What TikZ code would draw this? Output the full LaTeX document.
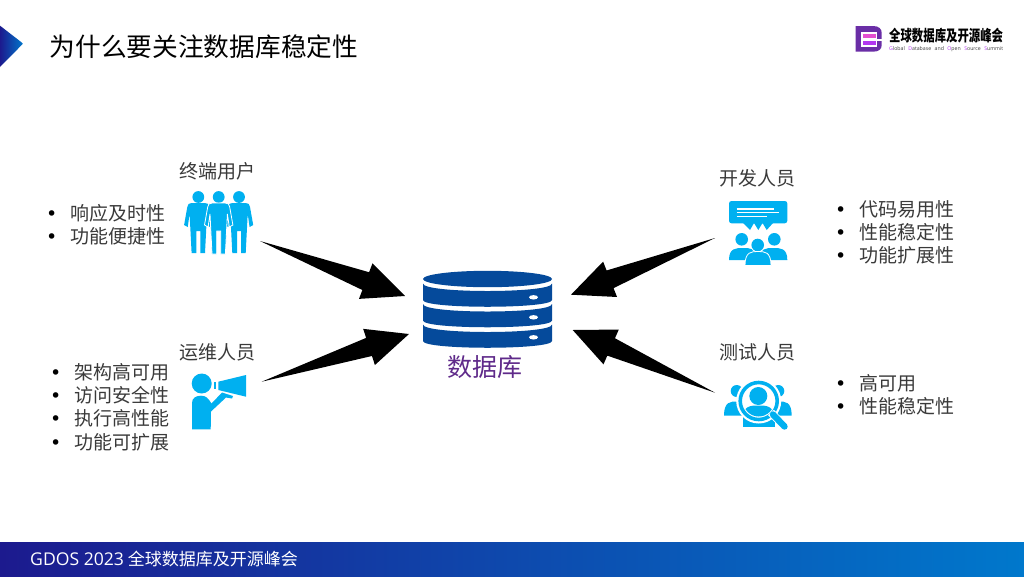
\documentclass[tikz,border=0pt]{standalone}
\usepackage{fontspec}
\setmainfont{Noto Sans CJK SC}
\newfontfamily\logolatin{Open Sans}
\newfontfamily\bulfont{DejaVu Sans}
\usetikzlibrary{calc}
\definecolor{iconblue}{HTML}{00B0F0}
\definecolor{dbblue}{HTML}{054A9B}
\definecolor{dbtext}{HTML}{5F2A8A}
\definecolor{navy}{HTML}{1C1A8E}
\definecolor{barblue}{HTML}{0078CC}
\definecolor{logopurple}{HTML}{6A2EA6}
\definecolor{logopink}{HTML}{E44FD0}
\definecolor{logoviolet}{HTML}{B236F0}
\definecolor{bodytext}{HTML}{3A3A3A}
\tikzset{
  x=1pt,y=-1pt,
  icon/.style={fill=iconblue},
  halo/.style={fill=iconblue,draw=white,line width=.8pt},
  band/.style={fill=dbblue},
  dbdot/.style={fill=white},
  label/.style={font=\fontsize{19}{22}\selectfont,text=bodytext,inner sep=0pt},
  bullets/.style={font=\fontsize{19}{23.3}\selectfont,text=bodytext,inner sep=0pt,anchor=west,align=left},
  taper/.style={fill=black},
}
\newcommand{\bul}{\makebox[24.5pt][l]{\textcolor{black}{\bulfont •}}}
% filled tapered arrow from a point tail to a tip
\newcommand{\taperarrow}[2]{%
  \coordinate (hb) at ($(#2)!42pt!(#1)$);
  \fill[taper] (#1) -- ($(hb)!9.5pt!90:(#2)$) -- ($(hb)!19pt!90:(#2)$) -- (#2)
     -- ($(hb)!19pt!-90:(#2)$) -- ($(hb)!9.5pt!-90:(#2)$) -- cycle;}
% standing person: centre x
\newcommand{\person}[3][icon]{%
  \fill[icon] (#2,197) circle (5.9pt);
  \path[#1] (#2-6.5,203) .. controls (#2-9.5,203) and (#2-10.5,204) .. (#2-11,207)
    -- (#2-14.2,225) -- (#2-10.6,227) -- (#2-8.7,214) -- (#2-6.7,#3) -- (#2-2,#3) -- (#2-2,231) -- (#2+2,231) -- (#2+2,#3) -- (#2+6.7,#3)
    -- (#2+8.7,214) -- (#2+10.6,227) -- (#2+14.2,225) -- (#2+11,207) .. controls (#2+10.5,204) and (#2+9.5,203) .. (#2+6.5,203) -- cycle;}
% seated shoulders
\newcommand{\shoulders}[5][icon]{%
  \path[#1] (#2-#3,#5) .. controls (#2-#3,#4) and (#2-#3*.5,#4) .. (#2,#4) .. controls (#2+#3*.5,#4) and (#2+#3,#4) .. (#2+#3,#5) -- cycle;}
\begin{document}
\begin{tikzpicture}
\useasboundingbox (0,0) rectangle (1024,576);
\fill[white] (0,0) rectangle (1024,576);

% corner mark
\shade[left color=navy,right color=barblue] (0,25.7) -- (21.5,42.3) .. controls (23.2,43.7) .. (21.5,45.2) -- (0,67) -- cycle;
\node[anchor=west,inner sep=0pt,font=\fontsize{25.7}{30}\selectfont] (title) at (49.5,46.5) {为什么要关注数据库稳定性};

% logo
\fill[logopurple] (855.7,26) -- (873,26) .. controls (879,26) and (881.7,29) .. (881.7,33) -- (881.7,45) .. controls (881.7,49) and (879,51.7) .. (873,51.7) -- (855.7,51.7) -- cycle;
\fill[white] (860.5,31.5) rectangle (876.7,47);
\fill[white] (876,38.6) rectangle (882,40.8);
\fill[logopink] (863,34) rectangle (875.5,38);
\fill[logoviolet] (863,40.7) rectangle (875.5,45);
\node[anchor=west,inner sep=0pt,font=\bfseries\fontsize{15.5}{18}\selectfont] (logocn) at (889,35.5) {\scalebox{0.735}[1]{全球数据库及开源峰会}};
\node[anchor=west,inner sep=0pt,font=\logolatin\fontsize{5.2}{6}\selectfont,text=black!75] (logoen) at (889,48.7) {\makebox[114pt][s]{\textcolor{logoviolet}{G}lobal \textcolor{logoviolet}{D}atabase and \textcolor{logoviolet}{O}pen \textcolor{logoviolet}{S}ource \textcolor{logoviolet}{S}ummit}};

% footer
\shade[left color=navy,right color=barblue] (0,542.5) rectangle (1024,576);
\node[anchor=west,inner sep=0pt,text=white,font=\fontsize{17}{20}\selectfont] (foot) at (30,558.5) {{\logolatin\fontsize{17.6}{20}\selectfont GDOS 2023} 全球数据库及开源峰会};

% database
\fill[band] (487.5,279) ellipse [x radius=64.5pt,y radius=8.2pt];
\foreach \yt/\yb in {283.5/300,304/320.5,324.5/341} {
  \fill[band] (423,\yt) .. controls (423,\yt+10) and (552,\yt+10) .. (552,\yt) -- (552,\yb) .. controls (552,\yb+9) and (423,\yb+9) .. (423,\yb) -- cycle;
}
\foreach \y in {297.3,317.3,337.3}
  \fill[dbdot] (533.5,\y) ellipse [x radius=4.5pt,y radius=2.2pt];
\node[inner sep=0pt,text=dbtext,font=\fontsize{25}{28}\selectfont] (db) at (484.5,367) {数据库};

% labels
\node[label] (user) at (217.5,171) {终端用户};
\node[label] (ops) at (217.5,352) {运维人员};
\node[label] (dev) at (757,178) {开发人员};
\node[label] (test) at (757,352) {测试人员};

% bullet lists
\node[bullets] (l1) at (46,224.5) {\bul 响应及时性\\\bul 功能便捷性};
\node[bullets] (l2) at (50,407) {\bul 架构高可用\\\bul 访问安全性\\\bul 执行高性能\\\bul 功能可扩展};
\node[bullets] (l3) at (835,232.5) {\bul 代码易用性\\\bul 性能稳定性\\\bul 功能扩展性};
\node[bullets] (l4) at (835,394.5) {\bul 高可用\\\bul 性能稳定性};

% arrows
\coordinate (t1) at (260,241);   \coordinate (h1) at (405,296);
\coordinate (t2) at (261.7,381.7); \coordinate (h2) at (409,334);
\coordinate (t3) at (715,238);   \coordinate (h3) at (571,294.7);
\coordinate (t4) at (715,392.7); \coordinate (h4) at (572.7,330);
\taperarrow{t1}{h1}
\taperarrow{t2}{h2}
\taperarrow{t3}{h3}
\taperarrow{t4}{h4}

% icon: end users
\person{198.3}{253}
\person{239}{253}
\person[halo]{218.7}{254}

% icon: operator with megaphone
\fill[icon] (201.7,383.5) circle (10pt);
\fill[icon] (192,429.3) -- (192,403) .. controls (192,398) and (196,395.7) .. (201,395.7) .. controls (206,395.7) and (208,398) .. (211.5,403.5) -- (222,392.5) -- (233,396) -- (232,398.5) -- (226,397.5) -- (211,411.5) -- (210.7,429.3) -- cycle;
\fill[icon] (214,381.7) rectangle (216,388.7);
\fill[icon] (218.3,381.7) -- (246,375) -- (246,396.7) -- (218.3,390) -- cycle;

% icon: developers
\fill[icon,rounded corners=2.5pt] (729,201) rectangle (787.3,223.3);
\fill[icon] (743,223) -- (750,230) -- (754,223) -- (758.3,230) -- (762.5,223) -- (766.7,230) -- (773,223) -- cycle;
\draw[white,line width=1.1pt] (736.7,209) -- (774.3,209) (736.7,212.7) -- (779,212.7) (736.7,216.7) -- (766.7,216.7);
\fill[icon] (741.7,239.3) circle (6.3pt) (774.3,239.3) circle (6.3pt);
\shoulders{743}{14}{248}{260}
\shoulders{773.3}{14}{248}{260}
\path[fill=white] (757.7,245) circle (7.3pt);
\fill[icon] (757.7,245) circle (6.3pt);
\shoulders[halo]{758}{13}{251.5}{265.5}

% icon: testers
\fill[icon] (736.7,391) circle (6pt) (778.3,391) circle (6pt);
\shoulders{737}{13}{401.5}{415.7}
\shoulders{778.7}{13}{401.5}{415.7}
\fill[icon] (743.3,410) rectangle (775,426.7);
\fill[white] (758.7,401) circle (22.5pt);
\draw[iconblue,line width=3.6pt] (758.7,401) circle (18.5pt);
\fill[icon] (758.3,396) circle (9pt);
\begin{scope}
  \clip (758.7,401) circle (15.5pt);
  \shoulders{758.5}{16}{405.5}{420}
\end{scope}
\draw[white,line width=8pt] (771,412.5) -- (783.5,425.5);
\draw[iconblue,line width=6.4pt,line cap=round] (773,414.5) -- (784.5,426.5);
\end{tikzpicture}
\end{document}
